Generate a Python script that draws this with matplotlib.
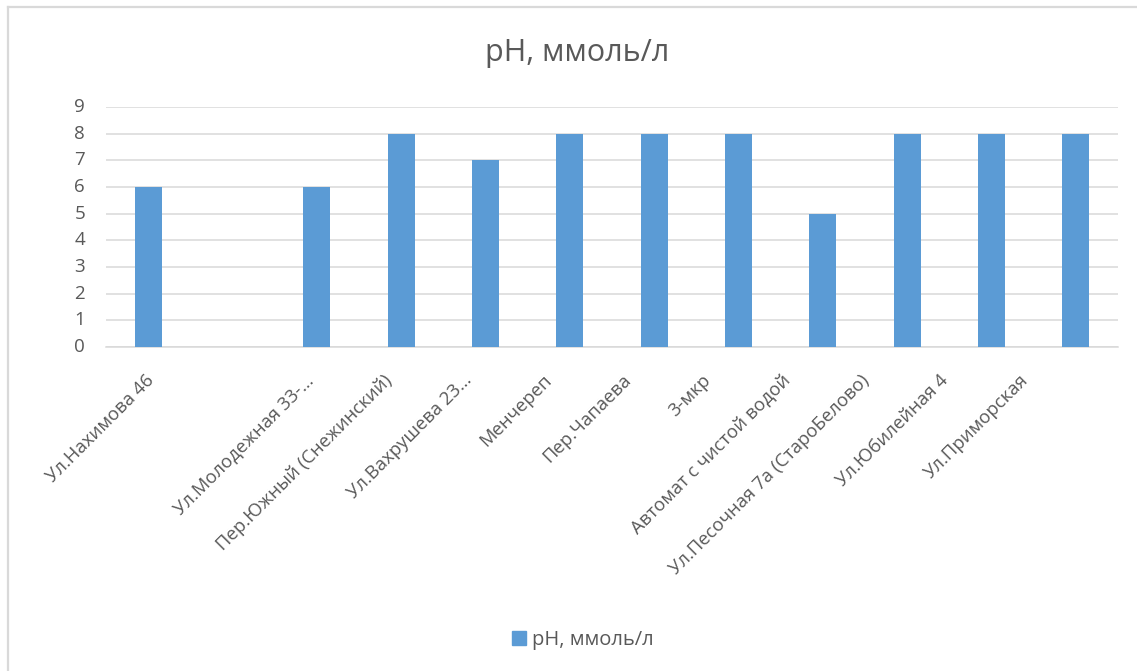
import matplotlib.pyplot as plt
import matplotlib.transforms as mtransforms
import numpy as np
from matplotlib.patches import Rectangle

# pH readings by sampling point (second slot left blank in the source table)
sites = [
    "Ул.Нахимова 46",
    "",
    "Ул.Молодежная 33-…",
    "Пер.Южный (Снежинский)",
    "Ул.Вахрушева 23…",
    "Менчереп",
    "Пер.Чапаева",
    "3-мкр",
    "Автомат с чистой водой",
    "Ул.Песочная 7а (СтароБелово)",
    "Ул.Юбилейная 4",
    "Ул.Приморская",
]
ph_values = [6, np.nan, 6, 8, 7, 8, 8, 8, 5, 8, 8, 8]
y_ticks = list(range(0, 10))

SERIES = "pH, ммоль/л"
BAR_COLOR = "#5B9BD5"
TEXT_COLOR = "#595959"
GRID_COLOR = "#D9D9D9"

plt.rcParams["font.family"] = ["Open Sans", "DejaVu Sans"]

W, H = 1137, 671
fig = plt.figure(figsize=(W / 100, H / 100), dpi=100)

# chart area frame (only top and left edges visible)
fig.add_artist(plt.Line2D([8 / W, 8 / W], [0, 1 - 7 / H], transform=fig.transFigure,
                          color=GRID_COLOR, lw=1.6))
fig.add_artist(plt.Line2D([8 / W, 1], [1 - 7 / H, 1 - 7 / H], transform=fig.transFigure,
                          color=GRID_COLOR, lw=1.6))

left, right = 106 / W, 1118 / W
bottom, top = 1 - 347 / H, 1 - 107 / H
ax = fig.add_axes([left, bottom, right - left, top - bottom])

x = np.arange(len(sites))
ax.bar(x, ph_values, width=0.32, color=BAR_COLOR, zorder=3, label=SERIES)

ax.set_xlim(-0.5, len(sites) - 0.5)
ax.set_ylim(0, 9)
ax.set_yticks(y_ticks, labels=[])
ax.yaxis.grid(True, color=GRID_COLOR, lw=1.1, zorder=0)
ax.set_axisbelow(True)
ax.tick_params(axis="y", length=0)
ax.tick_params(axis="x", length=0, pad=17.5, labelsize=13.3, labelcolor=TEXT_COLOR)

# value labels drawn a fixed distance left of the gridlines
ylab_tf = mtransforms.blended_transform_factory(ax.transAxes, ax.transData)
ylab_tf = ylab_tf + mtransforms.ScaledTranslation(-21 / 100, 0, fig.dpi_scale_trans)
for v in y_ticks:
    ax.text(0, v, str(v), transform=ylab_tf, ha="right", va="center",
            fontsize=13.5, color=TEXT_COLOR)

# slanted category labels, creeping left a little more at each slot
ax.set_xticks(x, labels=sites)
for i, lbl in enumerate(ax.get_xticklabels()):
    dx = (-3 - 4.9 * i) / 100
    lbl.set_rotation(45)
    lbl.set_ha("right")
    lbl.set_rotation_mode("anchor")
    lbl.set_transform(lbl.get_transform()
                      + mtransforms.ScaledTranslation(dx, 0, fig.dpi_scale_trans))

for side in ["left", "right", "top"]:
    ax.spines[side].set_visible(False)
ax.spines["bottom"].set_color(GRID_COLOR)
ax.spines["bottom"].set_linewidth(1.1)

fig.text(577 / W, 1 - 53 / H, SERIES, ha="center", va="center",
         fontsize=22, color=TEXT_COLOR)

handle = Rectangle((0, 0), 1, 1, color=BAR_COLOR)
fig.legend([handle], [SERIES], loc="center", bbox_to_anchor=(583 / W, 1 - 640 / H),
           frameon=False, handlelength=0.7, handleheight=0.7, handletextpad=0.3,
           prop={"size": 14.5}, labelcolor=TEXT_COLOR)

fig.savefig("out.png", dpi=100, facecolor="white")
